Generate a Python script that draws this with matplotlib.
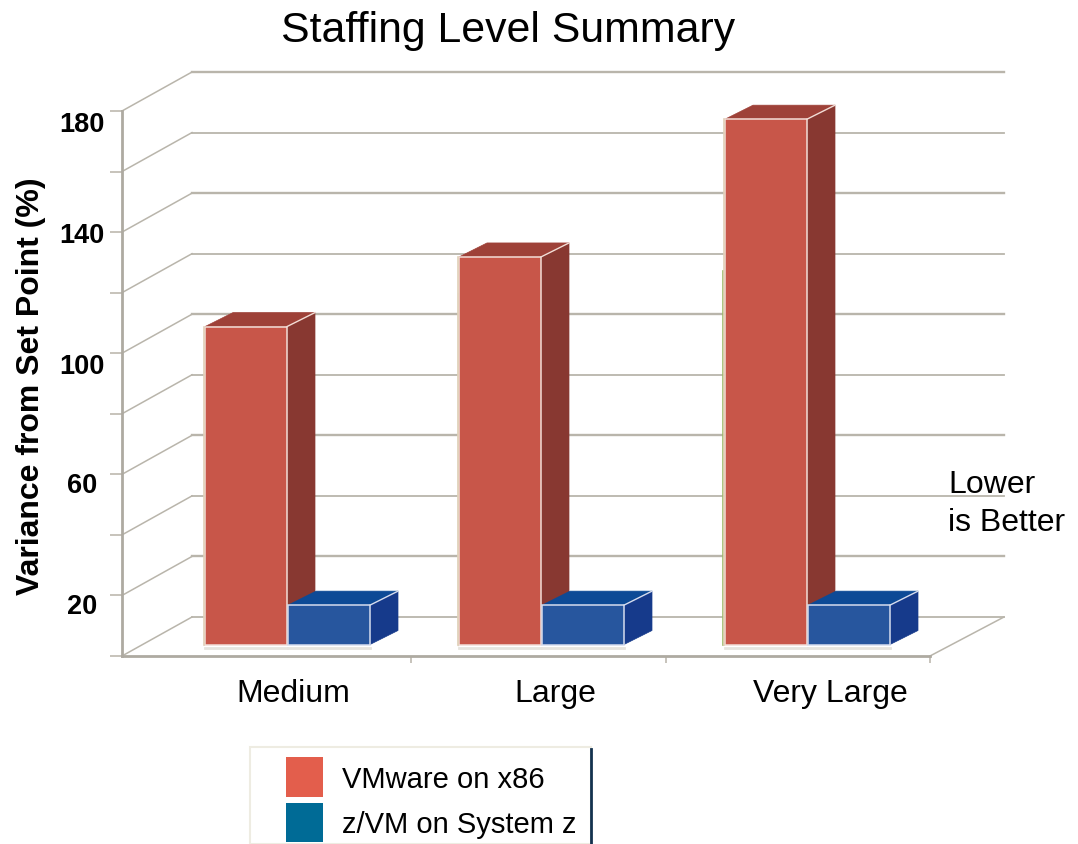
import matplotlib
matplotlib.use("Agg")
import matplotlib.pyplot as plt
from matplotlib.lines import Line2D
from matplotlib.patches import Patch, Polygon, Rectangle
from matplotlib.transforms import ScaledTranslation

categories = ['Medium', 'Large', 'Very Large']
series_names = ['VMware on x86', 'z/VM on System z']
vmware_values = [105, 128, 173.5]
zvm_values = [13, 13, 13]
grid_values = [0, 20, 40, 60, 80, 100, 120, 140, 160, 180]
tick_labels = ['', '20', '', '60', '', '100', '', '140', '', '180']
label_shift = [0, 8, 0, 8, 0, 10, 0, 0, 0, 10]

# layout, the x axis runs in figure pixels
FIG_W, FIG_H = 1078, 845
LEFT, RIGHT, BASE, TOP = 122, 930, 657, 112
PX = (BASE - TOP) / 180  # pixels per value unit
group_x = [205, 459, 725]
label_x = [293, 555, 830]
sep_x = [411, 666, 930]
BAR_W = 82
BAR_LIFT = 11.5 / PX
DEPTH_X, DEPTH_Y = 28, 14 / PX
WALL_X, WALL_Y = 70, 39 / PX
WALL_END = 1004
GRID = '#b9b5ab'
FONT = 'Liberation Sans'


def draw_bar(ax, x, height, front, top, side, edge):
    """Front face with ax.bar, then the top and side faces around it."""
    y0, y1 = BAR_LIFT, BAR_LIFT + height
    ax.bar(x, height, BAR_W, bottom=y0, align='edge', color=front,
           edgecolor=edge, linewidth=1.1, zorder=5, clip_on=False)
    r = x + BAR_W
    ax.add_patch(Polygon([(x, y1), (r, y1), (r + DEPTH_X, y1 + DEPTH_Y), (x + DEPTH_X, y1 + DEPTH_Y)],
                         facecolor=top, edgecolor=top, linewidth=0.5, zorder=4, clip_on=False))
    ax.add_patch(Polygon([(r, y0), (r, y1), (r + DEPTH_X, y1 + DEPTH_Y), (r + DEPTH_X, y0 + DEPTH_Y)],
                         facecolor=side, edgecolor=side, linewidth=0.5, zorder=4, clip_on=False))
    ax.plot([r, r + DEPTH_X], [y1, y1 + DEPTH_Y], color=edge, lw=1, zorder=6, clip_on=False)
    # soft shadow under the front face
    ax.plot([x, r], [y0 - 1, y0 - 1], color='#e6e4de', lw=2, zorder=3, clip_on=False)


def draw_walls(ax):
    """Back wall lines, left wall diagonals and the floor edge."""
    for v in grid_values:
        lw = 1.7 if v % 40 == 20 else 1.3
        ax.plot([LEFT, LEFT + WALL_X], [v, v + WALL_Y], color=GRID, lw=1.1, zorder=1, clip_on=False)
        ax.plot([LEFT + WALL_X, WALL_END], [v + WALL_Y, v + WALL_Y],
                color=GRID, lw=lw, zorder=1, clip_on=False)
    ax.plot([RIGHT, WALL_END], [0, WALL_Y], color=GRID, lw=1.1, zorder=1, clip_on=False)


def main():
    plt.rcParams['font.family'] = [FONT, 'DejaVu Sans']
    fig = plt.figure(figsize=(FIG_W / 100, FIG_H / 100), dpi=100)
    ax = fig.add_axes([LEFT / FIG_W, 1 - BASE / FIG_H, (RIGHT - LEFT) / FIG_W, (BASE - TOP) / FIG_H])
    ax.set_xlim(LEFT, RIGHT)
    ax.set_ylim(0, 180)
    ax.patch.set_visible(False)

    for name in ['top', 'right']:
        ax.spines[name].set_visible(False)
    ax.spines['left'].set_color('#aeaaa1')
    ax.spines['left'].set_linewidth(2)
    ax.spines['bottom'].set_color('#aeaaa1')
    ax.spines['bottom'].set_linewidth(2)

    draw_walls(ax)

    for i, x in enumerate(group_x):
        draw_bar(ax, x, vmware_values[i], '#c85649', '#9e4138', '#883831', '#f3ddd6')
        draw_bar(ax, x + BAR_W + 1, zvm_values[i], '#27569e', '#0d4a96', '#163a8b', '#d5dcee')
        ax.plot([x - 1, x - 1], [BAR_LIFT, BAR_LIFT + vmware_values[i]], color='#e0d0b8', lw=1.2, zorder=6, clip_on=False)

    # stray scan marks on the left edge of the last two red bars
    ax.plot([458, 458], [BAR_LIFT, 120], color='#d8d2c0', lw=1, zorder=2)
    ax.plot([723, 723], [BAR_LIFT, 127], color='#9dbb6a', lw=1.2, zorder=2)

    ax.set_yticks(grid_values)
    ax.set_yticklabels(tick_labels, fontsize=19.5, fontweight='bold', ha='center')
    ax.tick_params(axis='y', length=9, width=1.2, color='#bdb9af', pad=20)
    for lab, shift in zip(ax.get_yticklabels(), label_shift):
        lab.set_transform(lab.get_transform() + ScaledTranslation(0, -shift / 100, fig.dpi_scale_trans))

    ax.set_xticks(sep_x)
    ax.set_xticklabels([''] * len(sep_x))
    ax.tick_params(axis='x', which='major', length=5, width=1.2, color='#bdb9af')
    ax.set_xticks(label_x, minor=True)
    ax.set_xticklabels(categories, minor=True, fontsize=23)
    ax.tick_params(axis='x', which='minor', length=0, pad=16)

    ax.set_ylabel('Variance from Set Point (%)', fontsize=23, fontweight='bold')
    ax.yaxis.set_label_coords((46 - LEFT) / (RIGHT - LEFT), (BASE - 386) / (BASE - TOP))

    fig.text(508 / FIG_W, 1 - 31 / FIG_H, 'Staffing Level Summary', fontsize=30.8, ha='center', va='center')
    fig.text(948 / FIG_W, 1 - 485 / FIG_H, 'Lower', fontsize=23, ha='left', va='center')
    fig.text(948 / FIG_W, 1 - 523 / FIG_H, 'is Better', fontsize=23, ha='left', va='center')

    fig.add_artist(Rectangle((250 / FIG_W, 0), 341 / FIG_W, 1 - 748 / FIG_H, transform=fig.transFigure,
                             facecolor='white', edgecolor='#eeece2', linewidth=1.5))
    handles = [Patch(facecolor='#e35e4c', edgecolor='none', label=series_names[0]),
               Patch(facecolor='#006b96', edgecolor='none', label=series_names[1])]
    leg = fig.legend(handles=handles, loc='lower left', bbox_to_anchor=(286 / FIG_W, 2 / FIG_H), fontsize=21,
                     frameon=False, borderaxespad=0, borderpad=0,
                     handlelength=1.27, handleheight=1.7, handletextpad=0.65, labelspacing=0.2)
    leg.set_zorder(5)
    fig.add_artist(Line2D([591 / FIG_W, 591 / FIG_W], [0, 1 - 750 / FIG_H], color='#14324f', lw=2))

    fig.savefig('out.png', dpi=100)


if __name__ == "__main__":
    main()
